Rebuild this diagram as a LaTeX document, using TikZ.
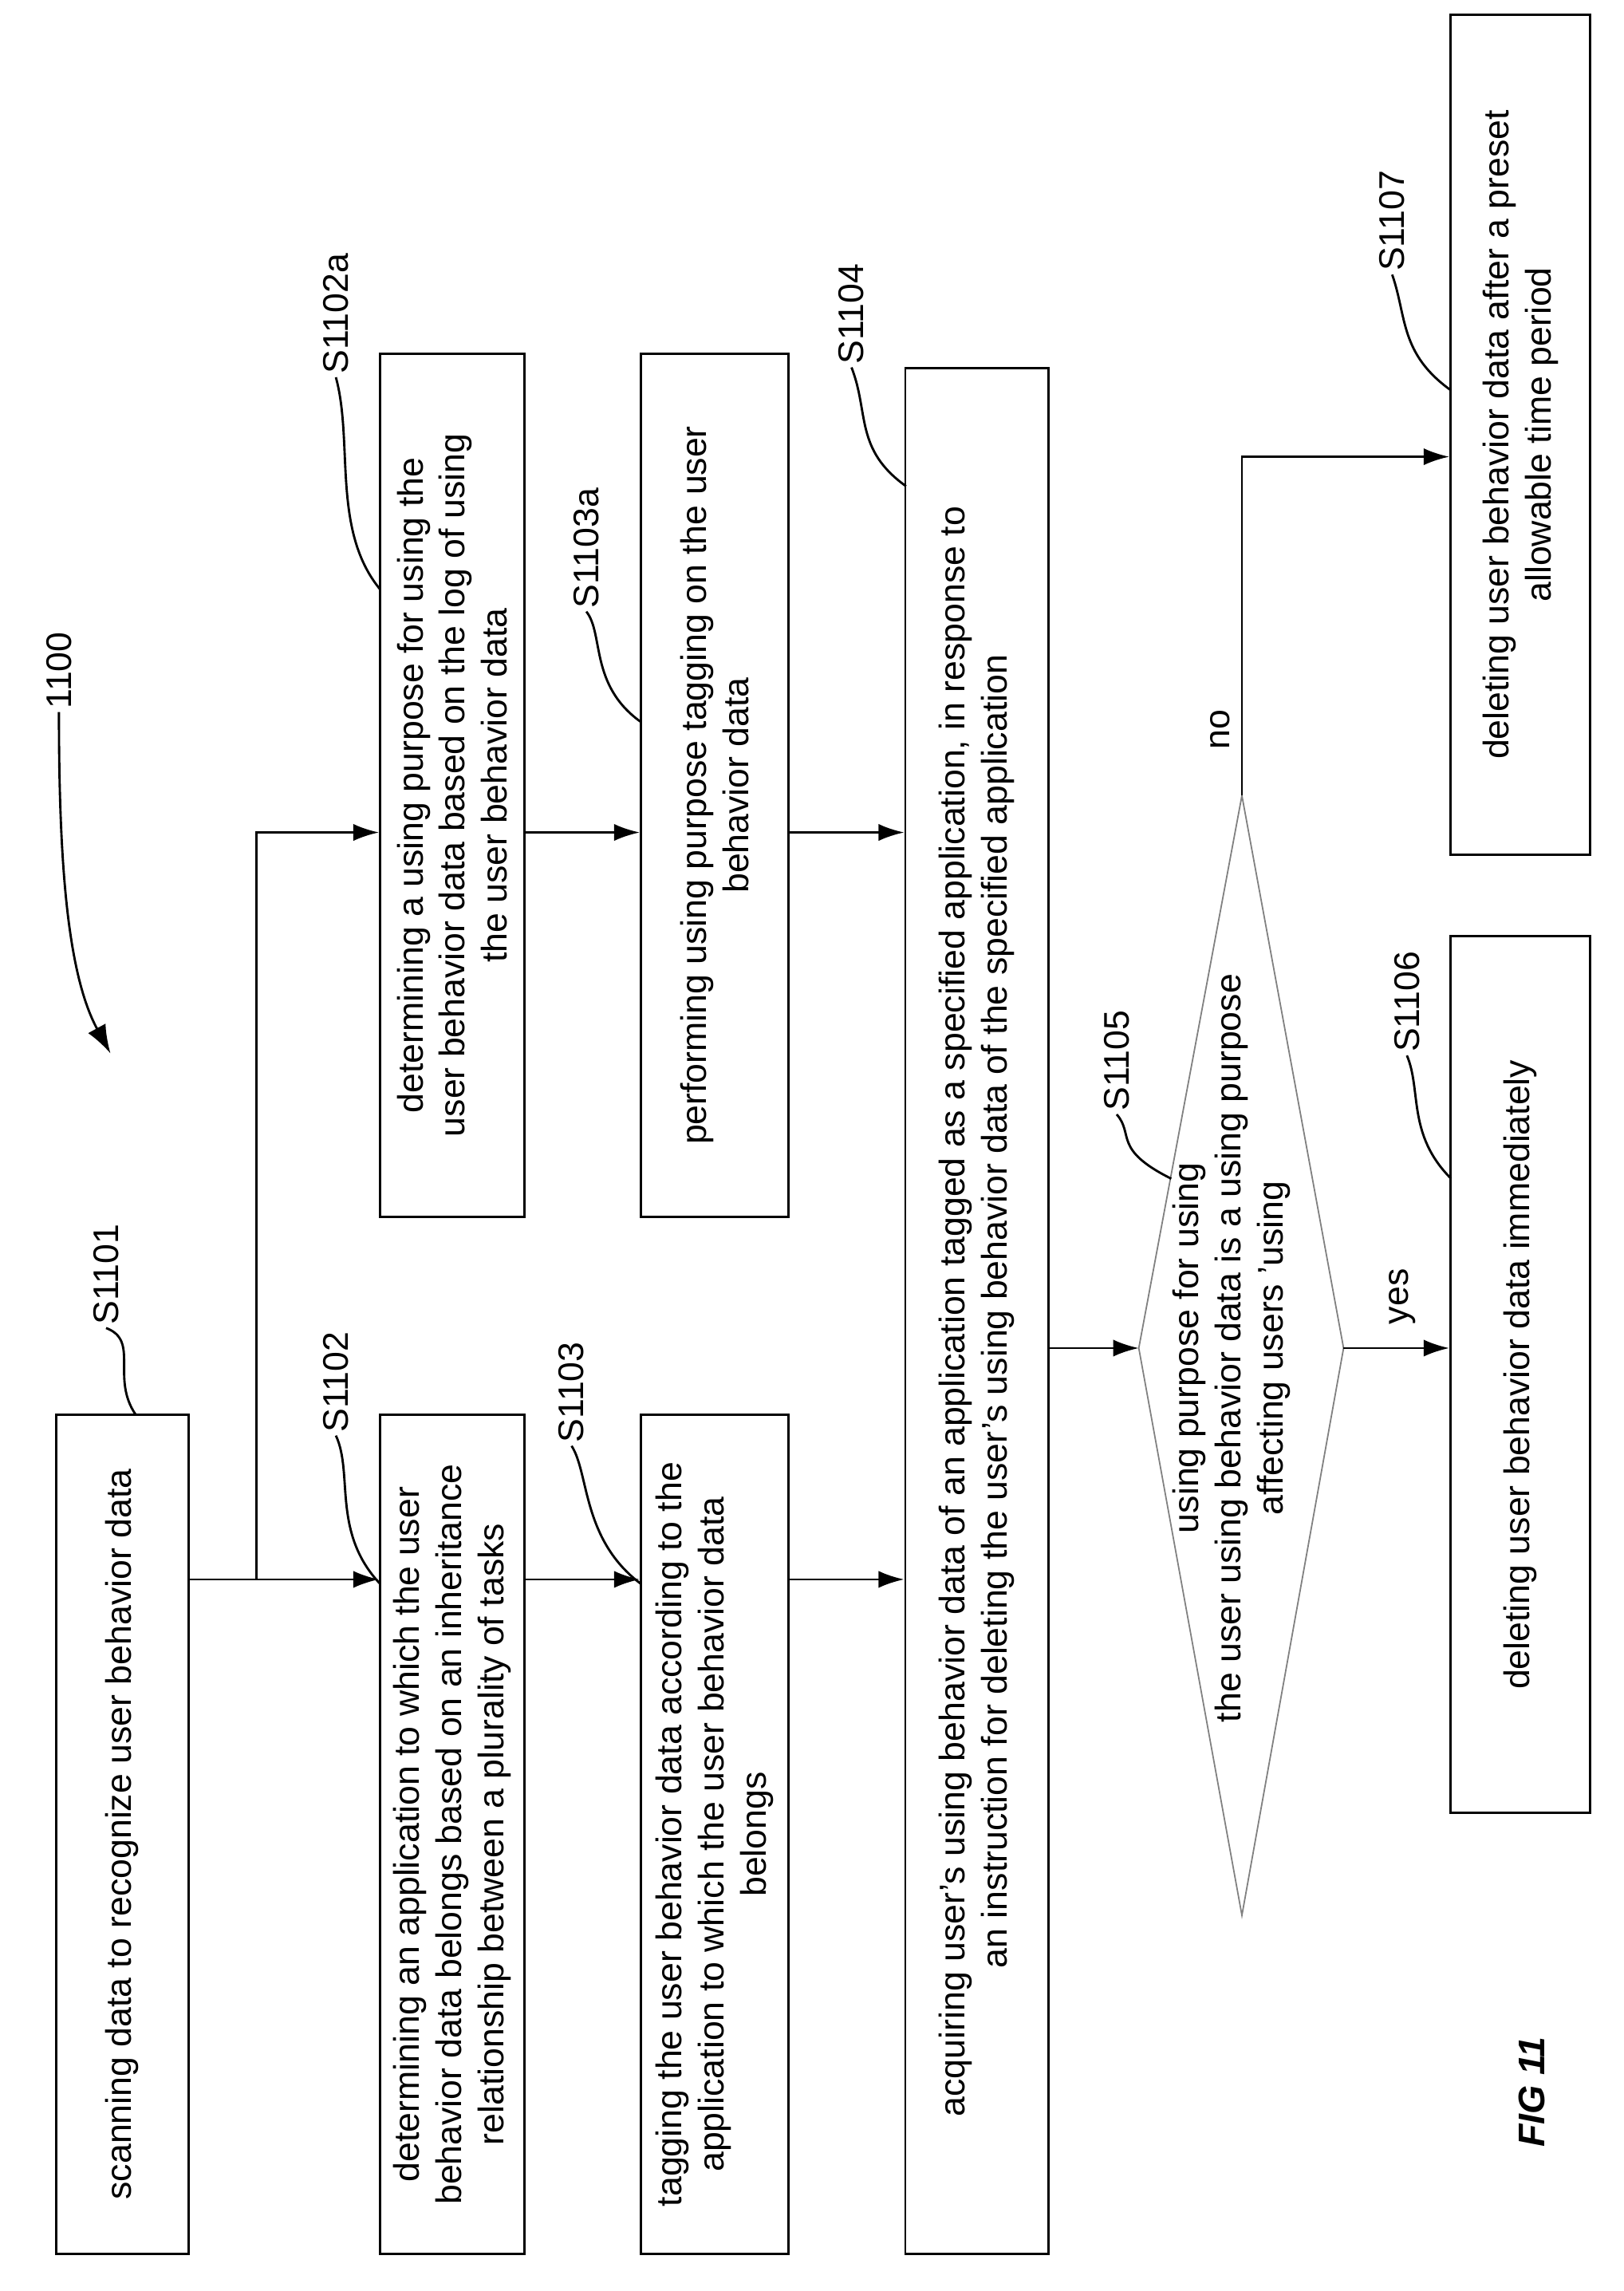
\documentclass[tikz,border=0pt]{standalone}
\usepackage{fontspec}
\setmainfont{Liberation Sans}
\usetikzlibrary{arrows.meta}
\begin{document}
\begin{tikzpicture}[x=0.01818cm,y=-0.01818cm,
  every node/.style={font=\fontsize{12.5}{14.8}\selectfont},
  box/.style={draw,line width=0.8pt,rotate=90,align=center,inner sep=2pt},
  lbl/.style={rotate=90,inner sep=1pt},
  arr/.style={-{Latex[length=9pt,width=6pt]},line width=0.8pt},
  lead/.style={line width=0.8pt}]
\useasboundingbox (0,0) rectangle (1102,1555);
\node[box,minimum width=570*0.01818cm,minimum height=90*0.01818cm] (b1) at (83,1245) {scanning data to recognize user behavior data};
\node[box,minimum width=570*0.01818cm,minimum height=98*0.01818cm] (b2) at (307,1245) {determining an application to which the user\\behavior data belongs based on an inheritance\\relationship between a plurality of tasks};
\node[box,minimum width=570*0.01818cm,minimum height=100*0.01818cm] (b3) at (485,1245) {tagging the user behavior data according to the\\application to which the user behavior data\\belongs};
\node[box,minimum width=586*0.01818cm,minimum height=98*0.01818cm] (b2a) at (307,533) {determining a using purpose for using the\\user behavior data based on the log of using\\the user behavior data};
\node[box,minimum width=586*0.01818cm,minimum height=100*0.01818cm] (b3a) at (485,533) {performing using purpose tagging on the user\\behavior data};
\node[box,minimum width=1280*0.01818cm,minimum height=97*0.01818cm] (b4) at (663,890) {acquiring user's using behavior data of an application tagged as a specified application, in response to\\an instruction for deleting the user's using behavior data of the specified application};
\node[box,minimum width=595*0.01818cm,minimum height=95*0.01818cm] (b6) at (1032,933) {deleting user behavior data immediately};
\node[box,minimum width=570*0.01818cm,minimum height=95*0.01818cm] (b7) at (1032,295) {deleting user behavior data after a preset\\allowable time period};
\coordinate (dl) at (773,915);
\coordinate (dr) at (912,915);
\coordinate (dt) at (843,540);
\coordinate (db) at (843,1300);
\draw[line width=0.5pt,gray] (dl)--(dt)--(dr)--(db)--cycle;
\node[lbl,align=center] (dtext) at (836,915) {using purpose for using\\the user using behavior data is a using purpose\\affecting users 'using};
\coordinate (y1) at (0,1072);
\coordinate (y2) at (0,565);
\coordinate (y3) at (0,915);
\coordinate (y4) at (0,310);
\coordinate (jx) at (174,0);
\draw[line width=0.8pt] (b1.south |- y1) -- (jx |- y1);
\draw[arr] (jx |- y1) -- (b2.north |- y1);
\draw[arr] (jx |- y1) -- (jx |- y2) -- (b2a.north |- y2);
\draw[arr] (b2.south |- y1) -- (b3.north |- y1);
\draw[arr] (b2a.south |- y2) -- (b3a.north |- y2);
\draw[arr] (b3.south |- y1) -- (b4.north |- y1);
\draw[arr] (b3a.south |- y2) -- (b4.north |- y2);
\draw[arr] (b4.south |- y3) -- (dl);
\draw[arr] (dr) -- (b6.north |- y3);
\node[lbl] (yes) at (952,880) {yes};
\draw[arr] (dt) -- (dt |- y4) -- (b7.north |- y4);
\node[lbl] (no) at (828,495) {no};
\node[lbl] (l1) at (72,865) {S1101};
\draw[lead] (l1.west) .. controls (95,910) and (75,935) .. (92,960);
\node[lbl] (l2) at (228,938) {S1102};
\draw[lead] (l2.west) .. controls (240,1000) and (225,1040) .. (258,1075);
\node[lbl] (l3) at (388,945) {S1103};
\draw[lead] (l3.west) .. controls (400,1000) and (395,1045) .. (435,1075);
\node[lbl] (l2a) at (228,213) {S1102a};
\draw[lead] (l2a.west) .. controls (240,300) and (225,360) .. (258,400);
\node[lbl] (l3a) at (398,372) {S1103a};
\draw[lead] (l3a.west) .. controls (410,430) and (400,465) .. (435,490);
\node[lbl] (l4) at (578,213) {S1104};
\draw[lead] (l4.west) .. controls (590,280) and (580,305) .. (615,330);
\node[lbl] (l5) at (758,720) {S1105};
\draw[lead] (l5.west) .. controls (770,770) and (755,780) .. (795,800);
\node[lbl] (l6) at (955,680) {S1106};
\draw[lead] (l6.west) .. controls (965,740) and (955,770) .. (985,800);
\node[lbl] (l7) at (945,150) {S1107};
\draw[lead] (l7.west) .. controls (955,215) and (950,240) .. (985,265);
\node[lbl] (l0) at (40,455) {1100};
\coordinate (t0) at (75,715);
\draw[lead,-{Latex[length=10pt,width=7pt]}] (l0.west) .. controls (40,580) and (45,660) .. (t0);
\node[lbl,font=\bfseries\itshape\fontsize{13}{15}\selectfont] (fig) at (1040,1420) {FIG 11};
\end{tikzpicture}
\end{document}
